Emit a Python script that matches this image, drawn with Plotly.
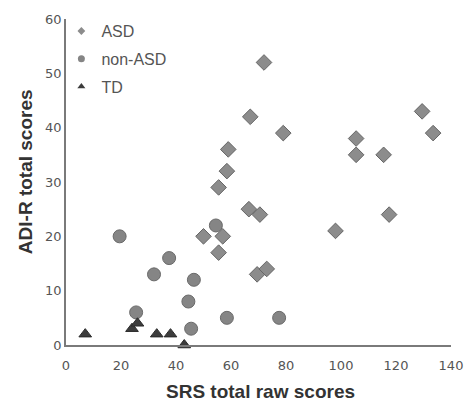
import plotly.graph_objects as go

# ---- data ----
asd_x = [72, 67, 79, 59, 58.5, 55.5, 66.5, 70.5, 50, 57, 55.5, 69.5, 73,
         105.5, 105.5, 115.5, 129.5, 133.5, 98, 117.5]
asd_y = [52, 42, 39, 36, 32, 29, 25, 24, 20, 20, 17, 13, 14,
         38, 35, 35, 43, 39, 21, 24]

non_x = [19.5, 25.5, 32, 37.5, 46.5, 44.5, 45.5, 54.5, 58.5, 77.5]
non_y = [20, 6, 13, 16, 12, 8, 3, 22, 5, 5]

td_x = [7, 24, 26, 33, 38, 43]
td_y = [2, 3, 4, 2, 2, 0]

x_ticks = [0, 20, 40, 60, 80, 100, 120, 140]
y_ticks = [0, 10, 20, 30, 40, 50, 60]

x_title = "SRS total raw scores"
y_title = "ADI-R total scores"
names = ["ASD", "non-ASD", "TD"]

fig = go.Figure()

# main marks (no legend)
fig.add_trace(go.Scatter(x=asd_x, y=asd_y, mode="markers", showlegend=False,
                         marker=dict(symbol="diamond", size=12, color="#8c8c8c",
                                     line=dict(color="#666666", width=1)),
                         cliponaxis=False))
fig.add_trace(go.Scatter(x=non_x, y=non_y, mode="markers", showlegend=False,
                         marker=dict(symbol="circle", size=13, color="#858585",
                                     line=dict(color="#6a6a6a", width=1)),
                         cliponaxis=False))
fig.add_trace(go.Scatter(x=td_x, y=td_y, mode="markers", showlegend=False,
                         marker=dict(symbol="triangle-up", size=11, color="#3c3c3c",
                                     line=dict(color="#2a2a2a", width=1)),
                         cliponaxis=False))

# legend entries with small symbols
leg_styles = [
    dict(symbol="diamond", size=6, color="#8c8c8c"),
    dict(symbol="circle", size=7, color="#858585"),
    dict(symbol="triangle-up", size=7, color="#3c3c3c"),
]
for i, (nm, st) in enumerate(zip(names, leg_styles)):
    fig.add_trace(go.Scatter(x=[None], y=[None], mode="markers", name=nm,
                             legendgroup=nm, marker=st))

fig.update_layout(
    width=475, height=402,
    margin=dict(l=66, r=18, t=18, b=57),
    paper_bgcolor="white", plot_bgcolor="white",
    showlegend=True,
    legend=dict(x=-0.012, y=1.015, xanchor="left", yanchor="top",
                bgcolor="rgba(0,0,0,0)",
                font=dict(family="Liberation Sans, Arial", size=16, color="#555555"),
                tracegroupgap=4, itemwidth=30),
    font=dict(family="DejaVu Sans", size=13, color="#555555"),
)

fig.update_xaxes(range=[0, 140], tickvals=x_ticks, showgrid=False, zeroline=False,
                 showline=True, linecolor="#7a7a7a", linewidth=1.5, ticks="",
                 ticklabelstandoff=8,
                 tickfont=dict(family="DejaVu Sans", size=13, color="#555555"))
fig.update_yaxes(range=[0, 60], tickvals=y_ticks, showgrid=False, zeroline=False,
                 showline=True, linecolor="#7a7a7a", linewidth=1.5, ticks="",
                 tickfont=dict(family="DejaVu Sans", size=13, color="#555555"))

fig.add_annotation(text="<b>" + x_title + "</b>", xref="paper", yref="paper",
                   x=0.504, y=-0.144, xanchor="center", yanchor="middle",
                   showarrow=False,
                   font=dict(family="Liberation Sans, Arial", size=19, color="#333333"))
fig.add_annotation(text="<b>" + y_title + "</b>", xref="paper", yref="paper",
                   x=-0.105, y=0.532, xanchor="center", yanchor="middle",
                   textangle=-90, showarrow=False,
                   font=dict(family="Liberation Sans, Arial", size=19, color="#333333"))

fig.write_html("out.html")
